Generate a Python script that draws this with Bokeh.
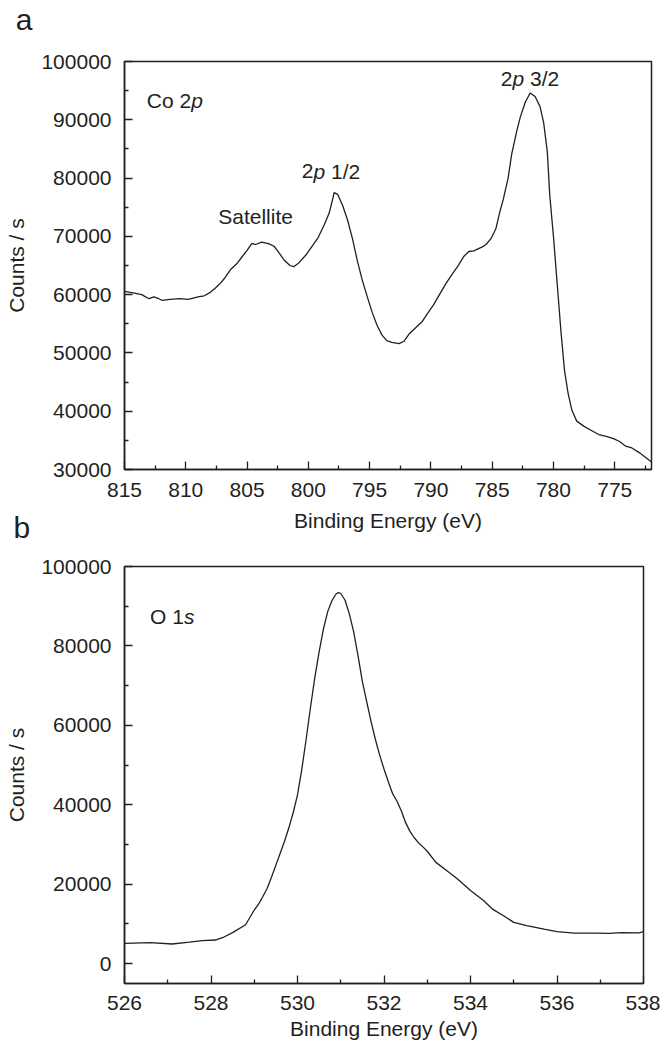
from bokeh.plotting import figure
from bokeh.models import Range1d, FixedTicker, NumeralTickFormatter, Label
from bokeh.layouts import column
from bokeh.embed import file_html
from bokeh.resources import INLINE

# ---- data: Co 2p spectrum (binding energy eV, counts/s) ----
co_be = [815.0, 814.3, 813.6, 813.0, 812.6, 812.2, 811.9, 811.3, 810.5, 809.8,
         809.0, 808.5, 808.0, 807.6, 807.2, 806.8, 806.3, 805.8, 805.4, 805.0,
         804.6, 804.3, 803.8, 803.2, 802.8, 802.4, 802.0, 801.5, 801.2, 800.8,
         800.2, 799.6, 799.2, 798.7, 798.3, 798.0, 797.9, 797.6, 797.2, 796.8,
         796.4, 796.0, 795.6, 795.2, 794.8, 794.4, 794.0, 793.6, 793.2, 792.6,
         792.2, 791.8, 791.2, 790.7, 790.2, 789.8, 789.3, 788.8, 788.3, 787.8,
         787.3, 786.9, 786.5, 786.2, 785.8, 785.5, 785.1, 784.7, 784.4, 784.1,
         783.7, 783.4, 783.0, 782.7, 782.3, 781.9, 781.5, 781.1, 780.8, 780.5,
         780.3, 780.0, 779.7, 779.4, 779.1, 778.8, 778.5, 778.1, 777.5, 776.9,
         776.3, 775.7, 775.1, 774.6, 774.1, 773.6, 773.0, 772.5, 772.0]
co_counts = [60550, 60300, 60000, 59300, 59600, 59300, 59000, 59200, 59300, 59200,
             59600, 59800, 60400, 61100, 61900, 62900, 64400, 65400, 66500, 67600,
             68800, 68600, 69000, 68700, 68300, 67200, 66000, 65000, 64800, 65400,
             66800, 68600, 69800, 72000, 74000, 76500, 77500, 77200, 75300, 72800,
             69600, 65800, 62500, 59700, 57000, 54800, 53100, 52100, 51800, 51600,
             52000, 53200, 54400, 55400, 57000, 58200, 60000, 61800, 63400, 64900,
             66600, 67400, 67500, 67800, 68200, 68600, 69600, 71300, 74000, 76300,
             80000, 84200, 88000, 90500, 93000, 94600, 94000, 92300, 89500, 84500,
             77000, 70000, 62000, 54000, 47000, 43000, 40200, 38300, 37400, 36700,
             36000, 35700, 35300, 34800, 34000, 33700, 32900, 32100, 31300]

# ---- data: O 1s spectrum ----
o_be = [526.0, 526.6, 527.1, 527.5, 527.8, 528.1, 528.3, 528.5, 528.8, 529.0,
        529.1, 529.2, 529.3, 529.4, 529.5, 529.6, 529.7, 529.8, 529.9, 530.0,
        530.1, 530.2, 530.3, 530.4, 530.5, 530.6, 530.7, 530.8, 530.9, 530.95,
        531.0, 531.1, 531.2, 531.3, 531.4, 531.5, 531.6, 531.7, 531.8, 531.9,
        532.0, 532.1, 532.2, 532.3, 532.4, 532.5, 532.6, 532.7, 532.8, 532.9,
        533.0, 533.2, 533.5, 533.7, 534.0, 534.3, 534.5, 534.8, 535.0, 535.3,
        535.7, 536.0, 536.4, 536.9, 537.2, 537.5, 537.9, 538.0]
o_counts = [5100, 5300, 4950, 5400, 5800, 5950, 6700, 7800, 9800, 13500,
            15000, 16900, 19000, 21800, 24800, 27800, 30800, 34200, 38000, 42500,
            49000, 56500, 64500, 72000, 78500, 84300, 88700, 91500, 93200, 93400,
            93200, 91500, 88000, 83500, 77500, 71000, 66000, 61000, 56500, 52500,
            49000, 45800, 42800, 40900, 38500, 35500, 33300, 31700, 30400, 29400,
            28300, 25500, 23000, 21300, 18400, 15900, 13800, 11800, 10400, 9600,
            8700, 8050, 7700, 7700, 7600, 7800, 7750, 8050]

co_xticks = [815, 810, 805, 800, 795, 790, 785, 780, 775]
co_xminor = [812.5, 807.5, 802.5, 797.5, 792.5, 787.5, 782.5, 777.5, 772.5]
co_yticks = [30000, 40000, 50000, 60000, 70000, 80000, 90000, 100000]
co_yminor = [35000, 45000, 55000, 65000, 75000, 85000, 95000]
o_xticks = [526, 528, 530, 532, 534, 536, 538]
o_xminor = [527, 529, 531, 533, 535, 537]
o_yticks = [0, 20000, 40000, 60000, 80000, 100000]
o_yminor = [10000, 30000, 50000, 70000, 90000]

INK = "#231f20"
FONT = "Liberation Sans"
FS = "21px"


def style(p, xt, xm, yt, ym):
    p.xgrid.visible = False
    p.ygrid.visible = False
    p.outline_line_color = INK
    p.outline_line_width = 1.5
    p.background_fill_color = "white"
    p.border_fill_color = "white"
    p.xaxis.ticker = FixedTicker(ticks=xt, minor_ticks=xm)
    p.yaxis.ticker = FixedTicker(ticks=yt, minor_ticks=ym)
    p.yaxis.formatter = NumeralTickFormatter(format="0")
    for ax in (p.xaxis[0], p.yaxis[0]):
        ax.axis_line_color = INK
        ax.axis_line_width = 1.5
        ax.major_tick_line_color = INK
        ax.major_tick_line_width = 1.3
        ax.minor_tick_line_color = INK
        ax.minor_tick_line_width = 1.3
        ax.major_tick_in = 8
        ax.major_tick_out = 0
        ax.minor_tick_in = 4
        ax.minor_tick_out = 0
        ax.major_label_text_font = FONT
        ax.major_label_text_font_size = FS
        ax.major_label_text_color = INK
        ax.axis_label_text_font = FONT
        ax.axis_label_text_font_size = FS
        ax.axis_label_text_font_style = "normal"
        ax.axis_label_text_color = INK
    p.yaxis.major_label_standoff = 13
    p.yaxis.axis_label_standoff = 10
    p.xaxis.axis_label = "Binding Energy (eV)"
    p.yaxis.axis_label = "Counts / s"


def make_label(x, y, txt, italic=False, off=0.0, size=FS):
    return Label(x=x, y=y, x_offset=off, text=txt,
                 text_font=FONT, text_font_size=size,
                 text_font_style="italic" if italic else "normal",
                 text_color=INK, text_baseline="alphabetic",
                 text_align="left")


def add_text(p, x, y, parts, size=FS, place="center"):
    off = 0.0
    for txt, italic, w in parts:
        p.add_layout(make_label(x, y, txt, italic, off, size), place)
        off += w


# ---- top panel ----
p1 = figure(width=668, height=545, output_backend="svg", toolbar_location=None,
            x_range=Range1d(815, 772), y_range=Range1d(30000, 100000),
            min_border_left=124, min_border_right=16, min_border_top=61,
            min_border_bottom=76)
style(p1, co_xticks, co_xminor, co_yticks, co_yminor)
p1.xaxis.major_label_standoff = 13
p1.xaxis.axis_label_standoff = 9
p1.line(co_be, co_counts, line_color=INK, line_width=1.3)

add_text(p1, 813.18, 93310, [("Co 2", False, 44.4), ("p", True, 11.7)])
add_text(p1, 800.53, 81160, [("2", False, 11.7), ("p", True, 17.5), ("1/2", False, 35)])
add_text(p1, 807.35, 73360, [("Satellite", False, 0)])
add_text(p1, 784.3, 97080, [("2", False, 11.7), ("p", True, 17.5), ("3/2", False, 35)])
# panel letters sit outside the frame; placed in side panels so they are not clipped
add_text(p1, 823.88, 107290, [("a", False, 0)], size="30px", place="above")
add_text(p1, 824.06, 20050, [("b", False, 0)], size="30px", place="right")

# ---- bottom panel ----
p2 = figure(width=660, height=501, output_backend="svg", toolbar_location=None,
            x_range=Range1d(526, 538), y_range=Range1d(-5000, 100000),
            min_border_left=124, min_border_right=8, min_border_top=21,
            min_border_bottom=63)
style(p2, o_xticks, o_xminor, o_yticks, o_yminor)
p2.xaxis.major_label_standoff = 12
p2.xaxis.axis_label_standoff = 4
p2.line(o_be, o_counts, line_color=INK, line_width=1.3)

add_text(p2, 526.59, 87360, [("O 1", False, 33.9), ("s", True, 10.5)])

layout = column(p1, p2, spacing=0)
open("out.html", "w").write(file_html(layout, INLINE))
